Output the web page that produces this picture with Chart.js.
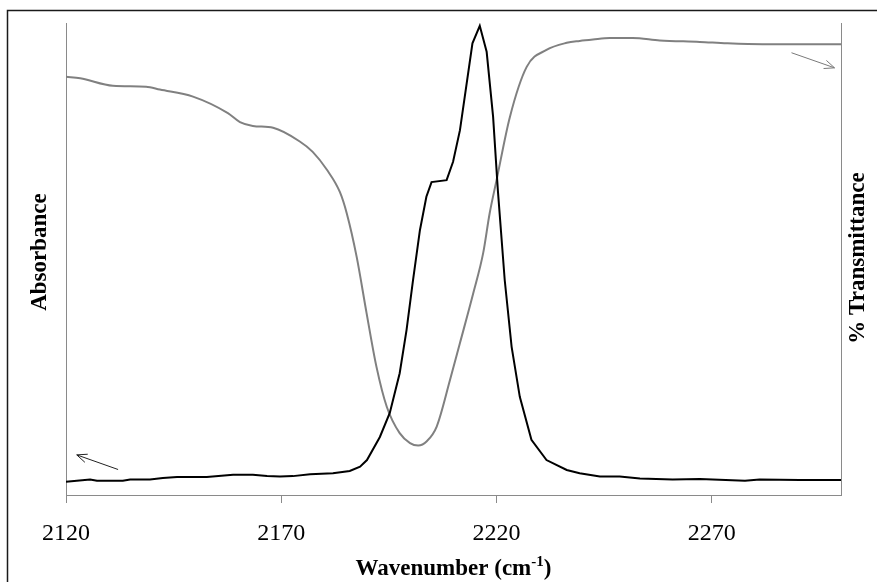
<!DOCTYPE html>
<html>
<head>
<meta charset="utf-8">
<script src="https://cdn.jsdelivr.net/npm/chart.js@4"></script>
<style>
  body { margin: 0; background: #fff; }
  canvas { display: block; }
</style>
</head>
<body>
<canvas id="irChart" width="877" height="582"></canvas>
<script>
// absorbance trace (black, left axis)
const absWavenumber = [2120.0, 2125.6, 2127.2, 2133.2, 2134.9, 2139.5, 2142.5, 2145.8, 2152.7, 2158.8,
  2163.4, 2166.7, 2169.7, 2172.7, 2176.7, 2182.0, 2185.9, 2188.3, 2189.9, 2192.9,
  2195.2, 2197.5, 2199.1, 2200.6, 2202.2, 2203.7, 2204.9, 2208.4, 2209.9, 2211.5,
  2214.4, 2216.1, 2217.7, 2219.2, 2220.3, 2221.9, 2223.5, 2225.4, 2228.1, 2231.6,
  2236.3, 2239.3, 2244.0, 2248.6, 2253.3, 2260.9, 2267.2, 2277.7, 2281.1, 2290.4, 2300.0];
const absorbance = [0.028, 0.033, 0.030, 0.030, 0.033, 0.033, 0.036, 0.038, 0.038, 0.043,
  0.043, 0.040, 0.039, 0.040, 0.044, 0.046, 0.051, 0.060, 0.074, 0.123,
  0.174, 0.258, 0.350, 0.455, 0.561, 0.632, 0.663, 0.667, 0.706, 0.773,
  0.957, 0.994, 0.939, 0.801, 0.646, 0.455, 0.314, 0.208, 0.117, 0.074,
  0.053, 0.046, 0.039, 0.039, 0.035, 0.033, 0.034, 0.030, 0.033, 0.032, 0.032];

// transmittance trace (grey, right axis)
const transWavenumber = [2120.0, 2123.3, 2130.9, 2138.6, 2141.8, 2149.5, 2157.6, 2160.4, 2163.4, 2168.1,
  2174.3, 2177.3, 2180.6, 2183.6, 2185.2, 2187.5, 2189.8, 2192.1, 2194.5, 2197.5,
  2199.9, 2201.8, 2203.8, 2206.1, 2209.2, 2211.5, 2214.6, 2216.9, 2218.4, 2220.0,
  2223.1, 2227.0, 2231.6, 2236.3, 2239.3, 2242.4, 2246.3, 2251.6, 2257.9, 2267.2,
  2273.5, 2281.8, 2300.0];
const transmittance = [88.6, 88.3, 86.7, 86.5, 85.9, 84.4, 80.9, 79.0, 78.2, 77.8,
  74.9, 72.7, 68.9, 64.2, 59.7, 50.5, 38.6, 27.2, 18.7, 13.1,
  11.0, 10.5, 11.4, 14.5, 24.4, 32.2, 42.8, 51.3, 59.7, 66.7,
  80.1, 90.7, 94.3, 95.8, 96.2, 96.5, 96.8, 96.8, 96.3, 96.0,
  95.7, 95.5, 95.5];

const xTicks = [2120, 2170, 2220, 2270];

const axisGrey = '#8a8a8a';
const serif = "'Liberation Serif', 'Times New Roman', serif";

function arrow(ctx, x1, y1, x2, y2, color) {
  const ang = Math.atan2(y2 - y1, x2 - x1);
  const h = 11;
  ctx.save();
  ctx.strokeStyle = color;
  ctx.lineWidth = 1;
  ctx.beginPath();
  ctx.moveTo(x1, y1);
  ctx.lineTo(x2, y2);
  ctx.moveTo(x2 - h * Math.cos(ang - 0.4), y2 - h * Math.sin(ang - 0.4));
  ctx.lineTo(x2, y2);
  ctx.lineTo(x2 - h * Math.cos(ang + 0.4), y2 - h * Math.sin(ang + 0.4));
  ctx.stroke();
  ctx.restore();
}

const decor = {
  id: 'decor',
  afterDraw(chart) {
    const ctx = chart.ctx;
    const { x, yA, yT } = chart.scales;
    const area = chart.chartArea;

    // outer frame
    ctx.save();
    ctx.strokeStyle = '#1a1a1a';
    ctx.lineWidth = 1.5;
    ctx.strokeRect(7.5, 10.5, 900, 600);

    // axis titles
    ctx.fillStyle = '#000';
    ctx.font = 'bold 23px ' + serif;
    ctx.textBaseline = 'alphabetic';
    const main = 'Wavenumber (cm';
    const sup = '-1';
    const close = ')';
    const wMain = ctx.measureText(main).width;
    const wClose = ctx.measureText(close).width;
    ctx.font = 'bold 15px ' + serif;
    const wSup = ctx.measureText(sup).width;
    const total = wMain + wSup + wClose;
    let tx = (area.left + area.right) / 2 - total / 2;
    const ty = 575;
    ctx.font = 'bold 23px ' + serif;
    ctx.textAlign = 'left';
    ctx.fillText(main, tx, ty);
    ctx.font = 'bold 15px ' + serif;
    ctx.fillText(sup, tx + wMain, ty - 9);
    ctx.font = 'bold 23px ' + serif;
    ctx.fillText(close, tx + wMain + wSup, ty);

    ctx.textAlign = 'center';
    ctx.textBaseline = 'middle';
    ctx.save();
    ctx.translate(40, 252);
    ctx.rotate(-Math.PI / 2);
    ctx.fillText('Absorbance', 0, 0);
    ctx.restore();
    ctx.save();
    ctx.translate(858, 258);
    ctx.rotate(-Math.PI / 2);
    ctx.fillText('% Transmittance', 0, 0);
    ctx.restore();
    ctx.restore();

    // arrows pointing at each trace's axis
    arrow(ctx, x.getPixelForValue(2132.1), yA.getPixelForValue(0.054),
      x.getPixelForValue(2122.5), yA.getPixelForValue(0.085), '#222');
    arrow(ctx, x.getPixelForValue(2288.5), yT.getPixelForValue(93.7),
      x.getPixelForValue(2298.5), yT.getPixelForValue(90.5), '#7a7a7a');
  }
};

new Chart(document.getElementById('irChart'), {
  type: 'line',
  data: {
    datasets: [{
      label: 'Absorbance',
      data: absWavenumber.map((v, i) => ({ x: v, y: absorbance[i] })),
      yAxisID: 'yA',
      borderColor: '#000',
      borderWidth: 2,
      pointRadius: 0,
      tension: 0
    }, {
      label: '% Transmittance',
      data: transWavenumber.map((v, i) => ({ x: v, y: transmittance[i] })),
      yAxisID: 'yT',
      borderColor: '#808080',
      borderWidth: 2,
      pointRadius: 0,
      cubicInterpolationMode: 'monotone'
    }]
  },
  options: {
    responsive: false,
    animation: false,
    layout: { padding: { top: 23, left: 0, right: 0, bottom: 0 } },
    plugins: { legend: { display: false }, tooltip: { enabled: false } },
    scales: {
      x: {
        type: 'linear',
        min: 2120,
        max: 2300,
        afterBuildTicks: s => { s.ticks = xTicks.map(v => ({ value: v })); },
        afterFit: s => { s.height = 87; },
        grid: { drawOnChartArea: false, drawTicks: true, tickLength: 8, color: axisGrey },
        border: { color: axisGrey, width: 1 },
        ticks: {
          color: '#000',
          font: { family: serif, size: 24 },
          padding: 16,
          maxRotation: 0,
          autoSkip: false,
          callback: v => String(v)
        }
      },
      yA: {
        position: 'left',
        min: 0,
        max: 1,
        afterFit: s => { s.width = 66; },
        grid: { display: false },
        border: { color: axisGrey, width: 1 },
        ticks: { display: false }
      },
      yT: {
        position: 'right',
        min: 0,
        max: 100,
        afterFit: s => { s.width = 36; },
        grid: { display: false },
        border: { color: axisGrey, width: 1 },
        ticks: { display: false }
      }
    }
  },
  plugins: [decor]
});
</script>
</body>
</html>
